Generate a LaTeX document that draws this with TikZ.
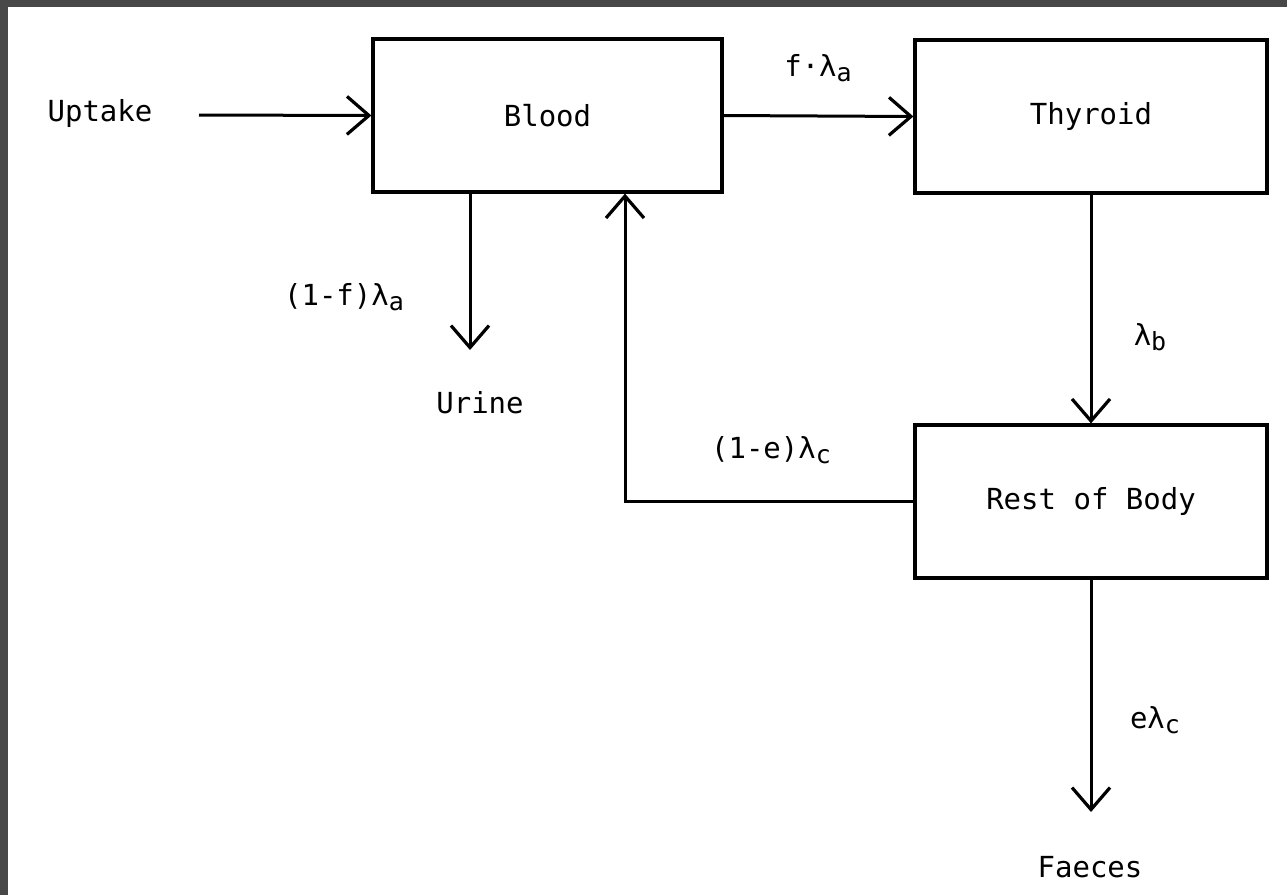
\documentclass[tikz,border=0pt]{standalone}
\usepackage{fontspec}
\setmainfont{DejaVu Sans Mono}
\usetikzlibrary{arrows.meta}
\newcommand{\lsub}[1]{\raisebox{-0.32ex}{\fontsize{25}{25}\selectfont #1}}
\definecolor{frame}{HTML}{484848}
\begin{document}
\begin{tikzpicture}[x=1pt,y=-1pt,
  box/.style={draw, line width=3.2pt, minimum width=349pt, minimum height=153pt, inner sep=0pt, font=\fontsize{29}{34}\selectfont},
  lbl/.style={inner sep=0pt, font=\fontsize{29}{34}\selectfont},
  arr/.style={line width=3pt, -{Straight Barb[length=22pt,width=38pt,line width=3.2pt]}}]
\useasboundingbox (0,0) rectangle (1287,895);
\fill[white] (0,0) rectangle (1287,895);
\fill[frame] (0,0) rectangle (1287,7);
\fill[frame] (0,0) rectangle (8,895);

\node[box] (blood) at (547.5,115.5) {Blood};
\node[box, minimum width=352pt] (thyroid) at (1091,116.5) {Thyroid};
\node[box, minimum width=352pt] (rest) at (1091,501.5) {Rest of Body};

\node[lbl] (uptake) at (100,113) {Uptake};
\node[lbl] (urine) at (480,403) {Urine};
\node[lbl] (faeces) at (1090,867) {Faeces};

\coordinate (ustart) at (199,115);
\coordinate (uend) at (470,350);
\coordinate (fend) at (1091,812);
\coordinate (rc) at (625,501);

\draw[arr] (ustart) -- (blood.west);
\draw[arr] (blood.east) -- (thyroid.west);
\draw[arr] (blood.south -| uend) -- (uend);
\draw[arr] (thyroid.south) -- (rest.north);
\draw[arr] (rest.south) -- (fend);
\draw[arr] (rest.west) -| (blood.south -| rc);

\node[lbl] (l1) at (818,68) {f·λ\lsub{a}};
\node[lbl] (l2) at (344,297) {(1-f)λ\lsub{a}};
\node[lbl] (l3) at (1150,337) {λ\lsub{b}};
\node[lbl] (l4) at (771,450) {(1-e)λ\lsub{c}};
\node[lbl] (l5) at (1155,720) {eλ\lsub{c}};
\end{tikzpicture}
\end{document}
